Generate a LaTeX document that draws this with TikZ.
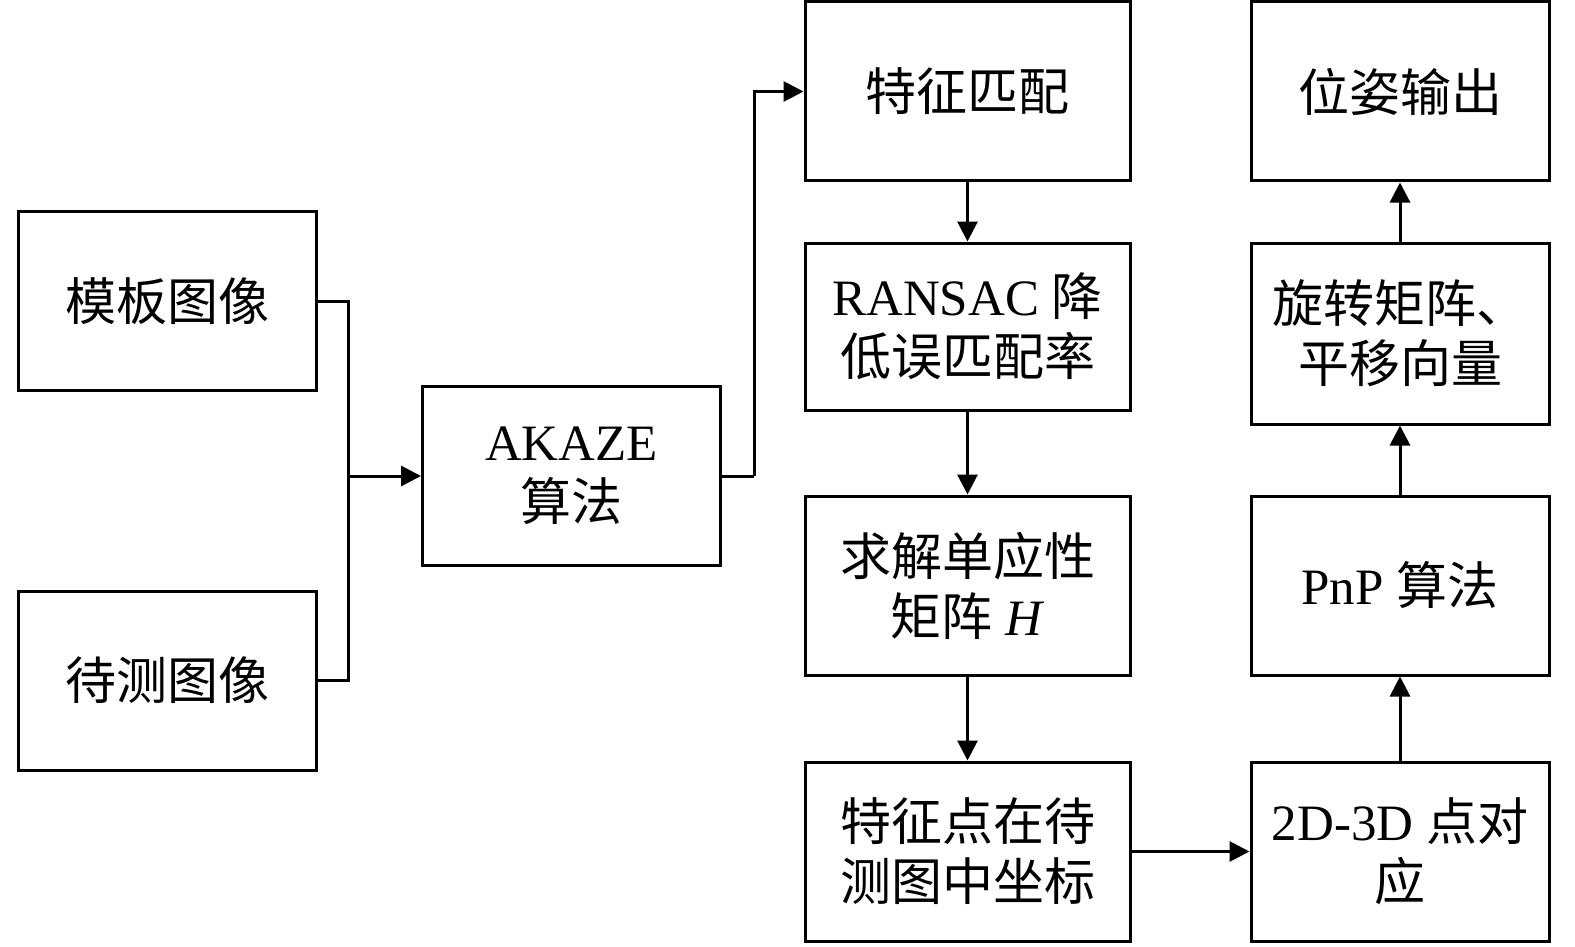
\documentclass[tikz,border=0pt]{standalone}
\usepackage{fontspec}
\setmainfont{Liberation Serif}
\newfontfamily\cjk{Noto Sans CJK SC}
\usetikzlibrary{arrows.meta}
\begin{document}
\begin{tikzpicture}[x=1pt,y=-1pt,
  box/.style={draw, line width=3pt, minimum width=298pt, minimum height=179pt,
    align=center, inner sep=0pt, font=\fontsize{51}{60}\selectfont},
  wbox/.style={box, minimum width=325pt},
  conn/.style={line width=3pt},
  arr/.style={conn, -{Triangle[length=20pt,width=20pt]}}]
\useasboundingbox (0,0) rectangle (1575,947);
% left column
\node[box] (tmpl) at (167,301) {\cjk 模板图像};
\node[box] (test) at (167,680.5) {\cjk 待测图像};
\node[box] (akaze) at (571.5,476) {AKAZE\\{\cjk 算法}};
% column 3
\node[wbox] (match) at (967.5,91.5) {\cjk 特征匹配};
\node[wbox, minimum height=167pt] (ransac) at (967.5,326.5) {RANSAC {\cjk 降}\\{\cjk 低误匹配率}};
\node[wbox] (homo) at (967.5,585.5) {{\cjk 求解单应性}\\{\cjk 矩阵} \textit{H}};
\node[wbox] (coord) at (967.5,851.5) {{\cjk 特征点在待}\\{\cjk 测图中坐标}};
% column 4
\node[box] (pose) at (1400,91.5) {\cjk 位姿输出};
\node[box, minimum height=181pt] (rot) at (1400,333.5) {{\cjk 旋转矩阵、}\\{\cjk 平移向量}};
\node[box] (pnp) at (1400,585.5) {PnP {\cjk 算法}};
\node[box] (corr) at (1400,851.5) {2D-3D {\cjk 点对}\\{\cjk 应}};
% connectors
\coordinate (j1) at (348,476);
\coordinate (j2) at (754,476);
\draw[conn] (tmpl.east) -| (j1);
\draw[conn] (test.east) -| (j1);
\draw[arr] (j1) -- (akaze.west);
\draw[conn] (akaze.east) -- (j2);
\draw[arr] (j2) |- (match.west);
\draw[arr] (match) -- (ransac);
\draw[arr] (ransac) -- (homo);
\draw[arr] (homo) -- (coord);
\draw[arr] (coord) -- (corr);
\draw[arr] (corr) -- (pnp);
\draw[arr] (pnp) -- (rot);
\draw[arr] (rot) -- (pose);
\end{tikzpicture}
\end{document}
